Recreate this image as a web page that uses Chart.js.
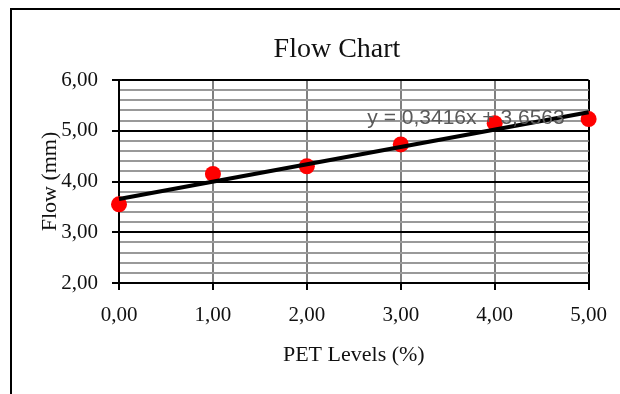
<!DOCTYPE html>
<html>
<head>
<meta charset="utf-8">
<script src="https://cdn.jsdelivr.net/npm/chart.js@4"></script>
<style>
  html, body { margin: 0; padding: 0; background: #fff; }
  canvas { display: block; }
</style>
</head>
<body>
<canvas id="grafico" width="620" height="394"></canvas>
<script>
// dados
const niveisPET = [0, 1, 2, 3, 4, 5];
const fluxo = [3.55, 4.15, 4.3, 4.73, 5.15, 5.23];
// linha de tendencia (extremos da reta y = 0,3416x + 3,6563)
const tendenciaX = [0, 5];
const tendenciaY = [3.6563, 5.3643];
const equacao = "y = 0,3416x + 3,6563";
const titulo = "Flow Chart";
const tituloX = "PET Levels (%)";
const tituloY = "Flow (mm)";

const serif = "'Liberation Serif', 'Times New Roman', serif";
const virgula = (v) => v.toFixed(2).replace(".", ",");
const inteiro = (v) => Math.abs(v - Math.round(v)) < 1e-6;

const moldura = {
  id: "moldura",
  beforeDraw(chart) {
    const ctx = chart.ctx;
    ctx.save();
    ctx.fillStyle = "#fff";
    ctx.fillRect(0, 0, chart.width, chart.height);
    ctx.strokeStyle = "#000";
    ctx.lineWidth = 2;
    ctx.strokeRect(11, 9, 700, 500);
    ctx.restore();
  },
  afterDraw(chart) {
    const ctx = chart.ctx;
    ctx.save();
    ctx.fillStyle = "#111";
    ctx.font = "28px " + serif;
    ctx.textAlign = "center";
    ctx.textBaseline = "alphabetic";
    ctx.fillText(titulo, 337, 57);
    ctx.fillStyle = "#595959";
    ctx.font = "21px 'Liberation Sans', Arial, sans-serif";
    ctx.textBaseline = "middle";
    ctx.fillText(equacao, 466, 118);
    ctx.restore();
  },
};

new Chart(document.getElementById("grafico"), {
  type: "scatter",
  data: {
    datasets: [
      {
        label: "Tendência",
        data: tendenciaX.map((x, i) => ({ x, y: tendenciaY[i] })),
        showLine: true,
        borderColor: "#000",
        borderWidth: 4,
        pointRadius: 0,
        fill: false,
        clip: false,
      },
      {
        label: "Flow",
        data: niveisPET.map((x, i) => ({ x, y: fluxo[i] })),
        backgroundColor: "#ff0000",
        borderWidth: 0,
        pointRadius: 8,
        pointHoverRadius: 8,
        clip: false,
      },
    ],
  },
  options: {
    responsive: false,
    animation: false,
    layout: { padding: { top: 80, right: 30, left: 0, bottom: 0 } },
    plugins: {
      legend: { display: false },
      tooltip: { enabled: false },
      title: { display: false },
    },
    scales: {
      x: {
        type: "linear",
        min: 0,
        max: 5,
        afterFit: (s) => { s.height = 111; },
        ticks: {
          stepSize: 1,
          padding: 13,
          color: "#111",
          font: { family: serif, size: 21 },
          callback: (v) => virgula(v),
        },
        grid: {
          color: (c) => (c.tick && c.tick.value === 5 ? "#000" : "#808080"),
          lineWidth: 2,
          tickLength: 7,
          tickColor: "#000",
        },
        border: { color: "#000", width: 2 },
        title: {
          display: true,
          text: tituloX,
          color: "#111",
          font: { family: serif, size: 22 },
          padding: { top: 0, bottom: 26 },
        },
      },
      y: {
        min: 2,
        max: 6,
        afterFit: (s) => { s.width = 119; },
        ticks: {
          stepSize: 0.2,
          autoSkip: false,
          maxTicksLimit: 50,
          padding: 14,
          color: "#111",
          font: { family: serif, size: 21 },
          callback: (v) => (inteiro(v) ? virgula(v) : ""),
        },
        grid: {
          color: (c) => (c.tick && inteiro(c.tick.value) ? "#000" : "#999999"),
          lineWidth: 2,
          tickLength: 7,
          tickColor: (c) => (c.tick && inteiro(c.tick.value) ? "#000" : "rgba(0,0,0,0)"),
        },
        border: { color: "#000", width: 2 },
        title: {
          display: true,
          text: tituloY,
          color: "#111",
          font: { family: serif, size: 22 },
          padding: { top: 37, bottom: 0 },
        },
      },
    },
  },
  plugins: [moldura],
});
</script>
</body>
</html>
